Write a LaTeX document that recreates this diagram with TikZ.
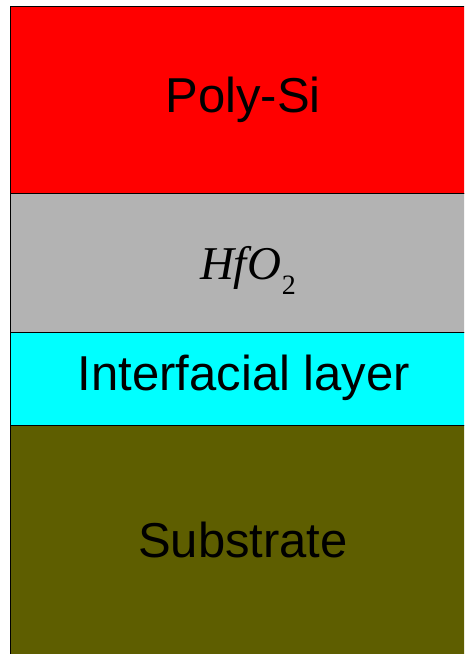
\documentclass[tikz,border=0pt]{standalone}
\usepackage{fontspec}
\setmainfont{Liberation Sans}
\newfontfamily\timesfont{Liberation Serif}
\definecolor{polyred}{HTML}{FF0000}
\definecolor{hfgray}{HTML}{B3B3B3}
\definecolor{ilcyan}{HTML}{00FFFF}
\definecolor{subolive}{HTML}{5E5E00}
\begin{document}
\begin{tikzpicture}[x=1pt,y=-1pt,
  layer/.style={draw=black, line width=1.4pt, rectangle, inner sep=0pt, anchor=north west, minimum width=470pt},
  lbl/.style={font=\fontsize{49}{58}\selectfont, text=black, inner sep=0pt}]
\useasboundingbox (0,0) rectangle (464,654);
\clip (0,0) rectangle (464,654);
\node[layer, fill=subolive, minimum height=240pt] (sub) at (10,425) {};
\node[layer, fill=ilcyan, minimum height=93pt] (il) at (10,332) {};
\node[layer, fill=hfgray, minimum height=139pt] (hf) at (10,193) {};
\node[layer, fill=polyred, minimum height=187pt] (poly) at (10,6) {};
\node[lbl] (tpoly) at (243,100) {Poly-Si};
\node[lbl, font=\fontsize{47}{56}\selectfont] (thf) at (248,270) {\timesfont\itshape HfO\kern1pt\raisebox{-15pt}{\upshape\fontsize{28}{34}\selectfont 2}};
\node[lbl] (til) at (244,378) {Interfacial layer};
\node[lbl] (tsub) at (243,540) {Substrate};
\end{tikzpicture}
\end{document}
